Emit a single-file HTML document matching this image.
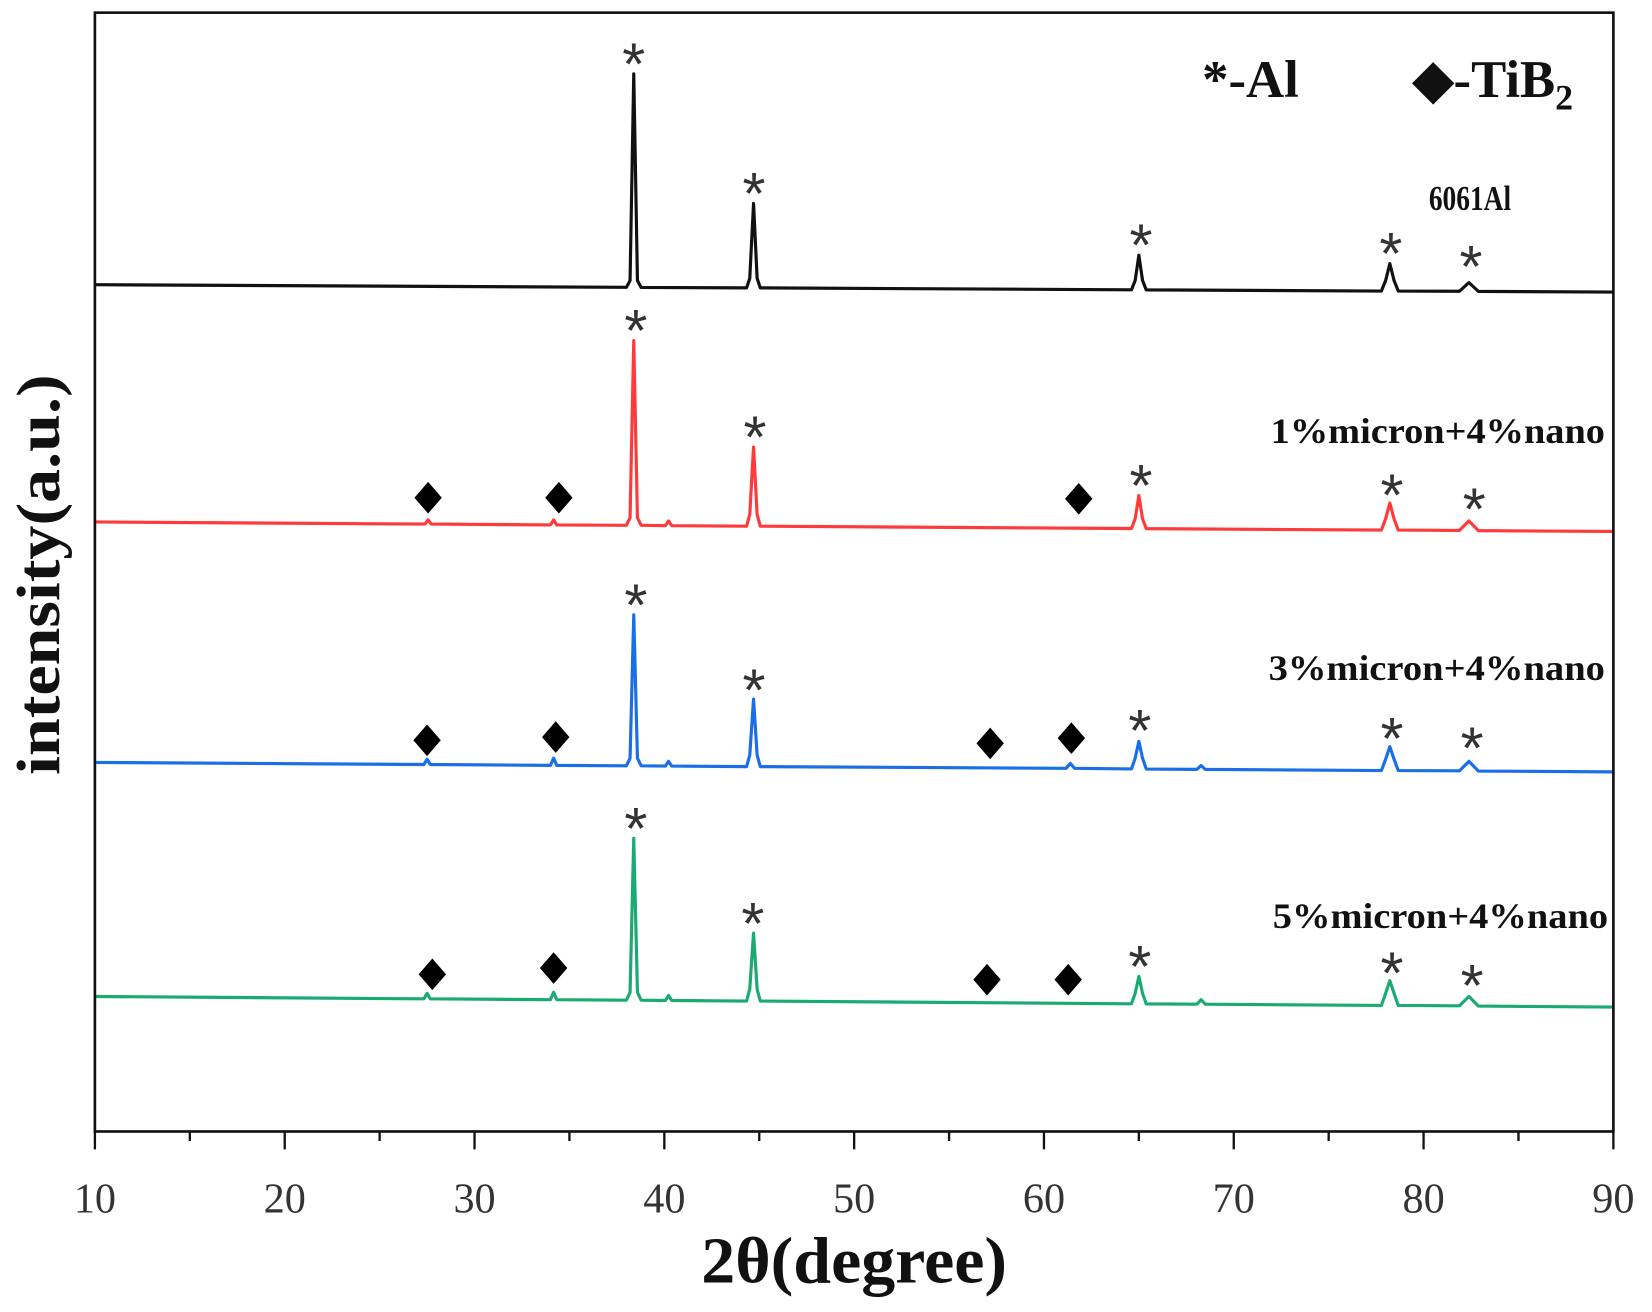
<!DOCTYPE html>
<html><head><meta charset="utf-8"><style>
html,body{margin:0;padding:0;background:#fff;}
svg{display:block;}
</style></head><body>
<svg width="1652" height="1312" viewBox="0 0 1652 1312" xmlns="http://www.w3.org/2000/svg">
<rect width="1652" height="1312" fill="#fff"/>
<g transform="scale(1.0545)">
<g fill="none" stroke-linejoin="round" stroke-width="3">
<path stroke="#111" d="M90,270 L594,272.5 L597.5,266 L601,70 L604.5,266 L608,272.6 L708,273 L711,264 L714.6,193 L718,264 L721,273 L1073,274.8 L1076.5,266 L1080,242 L1083.5,266 L1087,274.9 L1310,276 L1314,266 L1318,250 L1322,266 L1326,276 L1384,276.2 L1393,268 L1402,276.3 L1530,277"/>
<path stroke="#ff3a3a" d="M90,495 L403,497 L406,493 L409,497 L522,497.8 L525,493 L528,497.8 L594,498.2 L597.5,491 L601,323 L604.5,491 L608,498.2 L631,498.5 L634,494 L637,498.5 L708,499 L711,488 L714.6,424 L718,488 L721,499 L1073,501.2 L1076.5,492 L1080,470 L1083.5,492 L1087,501.3 L1310,502.7 L1314,492 L1318,477 L1322,492 L1326,502.7 L1384,503 L1393,494 L1402,503.2 L1530,504"/>
<path stroke="#1a6fe8" d="M90,723 L402,725 L405,720 L408,725 L522,725.8 L525,719 L528,725.8 L594,726.2 L597.5,719 L601,583 L604.5,719 L608,726.2 L631,726.5 L634,722 L637,726.5 L708,727 L711,716 L714.6,663 L718,716 L721,727 L1011,728.6 L1015,724 L1019,728.6 L1073,729.2 L1076.5,719 L1080,703 L1083.5,719 L1087,729.3 L1135,729.6 L1139,726 L1143,729.6 L1310,730.7 L1314,720 L1318,708 L1322,720 L1326,730.7 L1384,731 L1393,722 L1402,731.2 L1530,732"/>
<path stroke="#1aaa72" d="M90,945 L402,947.2 L405,942 L408,947.2 L522,948 L525,941 L528,948 L594,948.5 L597.5,941 L601,795 L604.5,941 L608,948.5 L631,948.8 L634,944 L637,948.8 L708,949.3 L711,938 L714.6,885 L718,938 L721,949.3 L1073,951.9 L1076.5,942 L1080,926 L1083.5,942 L1087,952 L1135,952.3 L1139,948 L1143,952.3 L1310,953.5 L1314,942 L1318,930 L1322,942 L1326,953.5 L1384,953.8 L1393,945 L1402,954.1 L1530,955"/>
</g>
<rect x="90" y="12" width="1440" height="1061" fill="none" stroke="#111" stroke-width="2.5"/>
<g stroke="#111" stroke-width="2.2">
<path d="M90,1073v17 M270,1073v17 M450,1073v17 M630,1073v17 M810,1073v17 M990,1073v17 M1170,1073v17 M1350,1073v17 M1530,1073v17 M180,1073v9 M360,1073v9 M540,1073v9 M720,1073v9 M900,1073v9 M1080,1073v9 M1260,1073v9 M1440,1073v9"/>
</g>
<g font-family="Liberation Serif, serif" font-size="40" fill="#333" text-anchor="middle">
<text x="90" y="1150">10</text><text x="270" y="1150">20</text><text x="450" y="1150">30</text><text x="630" y="1150">40</text><text x="810" y="1150">50</text><text x="990" y="1150">60</text><text x="1170" y="1150">70</text><text x="1350" y="1150">80</text><text x="1530" y="1150">90</text>
</g>
<text x="810" y="1216" font-family="Liberation Serif, serif" font-weight="bold" font-size="62" text-anchor="middle" fill="#111" textLength="290" lengthAdjust="spacingAndGlyphs">2θ(degree)</text>
<text transform="translate(56,545) rotate(-90)" font-family="Liberation Serif, serif" font-weight="bold" font-size="58" text-anchor="middle" fill="#111" textLength="380" lengthAdjust="spacingAndGlyphs">intensity(a.u.)</text>
<g font-family="Liberation Serif, serif" font-weight="bold" fill="#111">
<text x="1140" y="92" font-size="50">*-Al</text>
<text x="1340" y="92" font-size="50">◆-TiB<tspan font-size="34" dy="12">2</tspan></text>
<text x="1355" y="199" font-size="33" textLength="78" lengthAdjust="spacingAndGlyphs">6061Al</text>
<text x="1205" y="420" font-size="34" textLength="317" lengthAdjust="spacingAndGlyphs">1%micron+4%nano</text>
<text x="1203" y="645" font-size="34" textLength="319" lengthAdjust="spacingAndGlyphs">3%micron+4%nano</text>
<text x="1207" y="880" font-size="34" textLength="318" lengthAdjust="spacingAndGlyphs">5%micron+4%nano</text>
</g>
<g font-family="Liberation Sans, sans-serif" font-size="56" fill="#333" text-anchor="middle">
<text x="601" y="80">*</text><text x="715" y="203">*</text><text x="1082" y="252">*</text><text x="1319" y="260">*</text><text x="1395" y="272">*</text>
<text x="603" y="333">*</text><text x="716" y="434">*</text><text x="1082" y="480">*</text><text x="1320" y="489">*</text><text x="1398" y="502">*</text>
<text x="603" y="593">*</text><text x="715" y="674">*</text><text x="1081" y="712">*</text><text x="1320" y="720">*</text><text x="1396" y="729">*</text>
<text x="603" y="805">*</text><text x="714" y="895">*</text><text x="1081" y="936">*</text><text x="1320" y="942">*</text><text x="1396" y="954">*</text>
</g>
<g fill="#000">
<path d="M406,457 l13,15 l-13,15 l-13,-15z"/>
<path d="M530,457 l13,15 l-13,15 l-13,-15z"/>
<path d="M1023,458 l13,15 l-13,15 l-13,-15z"/>
<path d="M405,687 l13,15 l-13,15 l-13,-15z"/>
<path d="M527,684 l13,15 l-13,15 l-13,-15z"/>
<path d="M939,690 l13,15 l-13,15 l-13,-15z"/>
<path d="M1016,685 l13,15 l-13,15 l-13,-15z"/>
<path d="M410,909 l13,15 l-13,15 l-13,-15z"/>
<path d="M525,903 l13,15 l-13,15 l-13,-15z"/>
<path d="M936,914 l13,15 l-13,15 l-13,-15z"/>
<path d="M1013,914 l13,15 l-13,15 l-13,-15z"/>
</g>
</g>
</svg>
</body></html>
